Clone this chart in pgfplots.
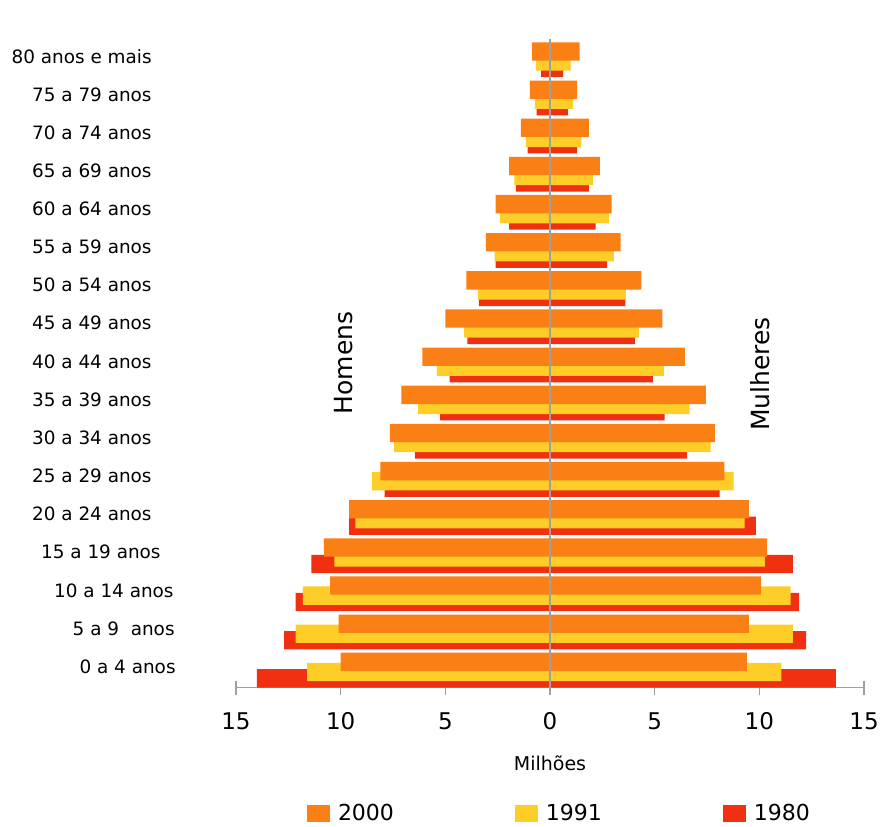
\documentclass[border=0pt]{standalone}
\usepackage{pgfplots}
\pgfplotsset{compat=1.18}
\usepackage{fontspec}
\setmainfont{DejaVu Sans}
\definecolor{c2000}{RGB}{250,128,22}
\definecolor{c1991}{RGB}{255,205,40}
\definecolor{c1980}{RGB}{240,48,16}
\definecolor{axgray}{RGB}{160,160,160}
\begin{document}
\begin{tikzpicture}
\begin{axis}[
  name=ax,
  scale only axis, width=314pt, height=324.4pt,
  xbar, bar width=0.48,
  xmin=-15, xmax=15, ymin=-0.548, ymax=16.46,
  axis x line*=bottom, axis y line*=left,
  x axis line style={-, axgray, line width=0.8pt},
  y axis line style={draw=none},
  ytick style={draw=none},
  xtick={-15,-10,-5,0,5,10,15},
  xticklabels={15,10,5,0,5,10,15},
  tick align=center, major tick length=7pt,
  xtick style={axgray, line width=0.8pt},
  /pgf/number format/assume math mode=true,
  xticklabel style={font=\fontsize{11.5}{13}\selectfont, anchor=north, inner sep=0pt, yshift=-8.75pt},
  ytick={0,...,16},
  yticklabels={0 a 4 anos\hspace*{-12pt},5 a 9~~anos\hspace*{-11.5pt},10 a 14 anos\hspace*{-11pt},15 a 19 anos\hspace*{-4.5pt},20 a 24 anos,25 a 29 anos,30 a 34 anos,35 a 39 anos,40 a 44 anos,45 a 49 anos,50 a 54 anos,55 a 59 anos,60 a 64 anos,65 a 69 anos,70 a 74 anos,75 a 79 anos,80 anos e mais},
  yticklabel style={font=\fontsize{9.2}{11}\selectfont, anchor=east, inner sep=0pt, xshift=-38.5pt},
  xlabel={Milhões},
  xlabel style={at={(axis description cs:0.5,0)}, anchor=north, inner sep=0pt, yshift=-34pt, font=\fontsize{9.5}{11}\selectfont},
  clip=false,
  legend columns=3,
  reverse legend,
  legend image code/.code={\fill[#1] (0pt,-4.25pt) rectangle (11.5pt,4.25pt);},
  legend style={draw=none, fill=none, at={(axis description cs:0,0)}, anchor=west,
    xshift=35.5pt, yshift=-63pt, inner sep=0pt, outer sep=0pt,
    font=\fontsize{11}{13}\selectfont,
    nodes={inner sep=0pt},
    /tikz/every odd column/.append style={column sep=4pt},
    /tikz/every even column/.append style={column sep=60.5pt}},
]
% 1980 (drawn first, lowest)
\addplot[fill=c1980, draw=none, bar shift=-0.308] coordinates {
 (-14.0,0) (-12.7,1) (-12.15,2) (-11.4,3) (-9.6,4) (-7.9,5) (-6.45,6) (-5.25,7) (-4.8,8) (-3.95,9) (-3.4,10) (-2.6,11) (-1.95,12) (-1.63,13) (-1.07,14) (-0.64,15) (-0.43,16)
 (13.65,0) (12.23,1) (11.9,2) (11.6,3) (9.83,4) (8.1,5) (6.55,6) (5.47,7) (4.92,8) (4.05,9) (3.6,10) (2.73,11) (2.18,12) (1.86,13) (1.3,14) (0.85,15) (0.63,16)
};
\addlegendentry{1980}
% 1991
\addplot[fill=c1991, draw=none, bar shift=-0.139] coordinates {
 (-11.6,0) (-12.15,1) (-11.8,2) (-10.3,3) (-9.3,4) (-8.5,5) (-7.45,6) (-6.3,7) (-5.4,8) (-4.1,9) (-3.45,10) (-2.65,11) (-2.4,12) (-1.7,13) (-1.15,14) (-0.72,15) (-0.67,16)
 (11.05,0) (11.6,1) (11.5,2) (10.26,3) (9.3,4) (8.77,5) (7.67,6) (6.67,7) (5.44,8) (4.25,9) (3.6,10) (3.05,11) (2.82,12) (2.05,13) (1.5,14) (1.1,15) (0.98,16)
};
\addlegendentry{1991}
% 2000 (top)
\addplot[fill=c2000, draw=none, bar shift=0.124] coordinates {
 (-10.0,0) (-10.1,1) (-10.5,2) (-10.8,3) (-9.6,4) (-8.1,5) (-7.65,6) (-7.1,7) (-6.1,8) (-5.0,9) (-4.0,10) (-3.06,11) (-2.6,12) (-1.95,13) (-1.39,14) (-0.96,15) (-0.86,16)
 (9.4,0) (9.5,1) (10.07,2) (10.37,3) (9.5,4) (8.33,5) (7.87,6) (7.44,7) (6.44,8) (5.37,9) (4.36,10) (3.37,11) (2.94,12) (2.38,13) (1.86,14) (1.3,15) (1.41,16)
};
\addlegendentry{2000}
\draw[axgray, line width=0.8pt] (axis cs:0,-0.548) -- (axis cs:0,16.46);
\node[rotate=90, font=\fontsize{12.5}{14}\selectfont] at (axis cs:-9.87,7.96) {Homens};
\node[rotate=90, font=\fontsize{12.5}{14}\selectfont] at (axis cs:10.06,7.67) {Mulheres};
\end{axis}
\pgfresetboundingbox
\path[use as bounding box] ([xshift=-118pt,yshift=-69.25pt]ax.south west) rectangle ([xshift=322.5pt,yshift=343.75pt]ax.south west);
\end{tikzpicture}
\end{document}
